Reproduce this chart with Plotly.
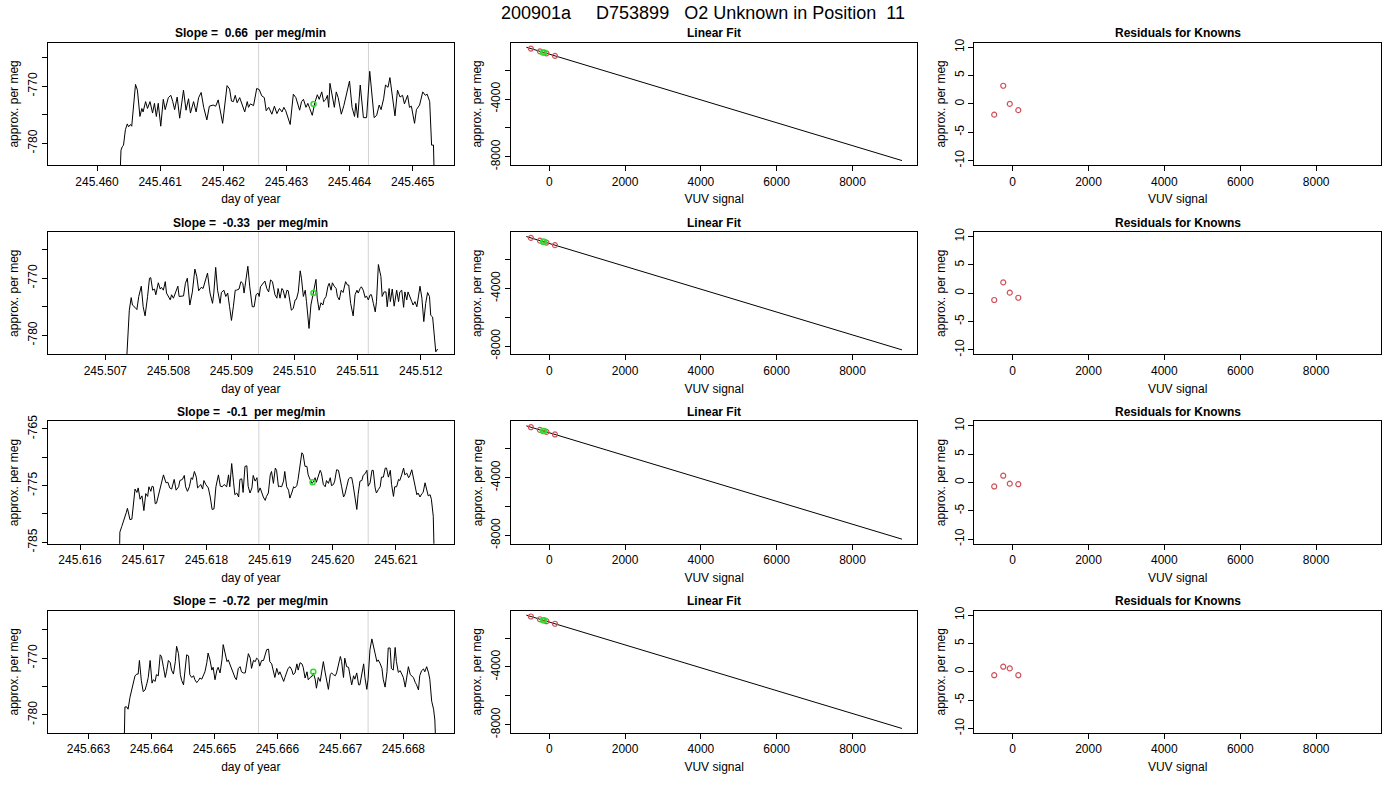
import plotly.graph_objects as go

# ---------------- data ----------------
main_title = "200901a     D753899   O2 Unknown in Position  11"
slope_titles = ["Slope =  0.66  per meg/min", "Slope =  -0.33  per meg/min",
                "Slope =  -0.1  per meg/min", "Slope =  -0.72  per meg/min"]

# row 1 : day of year / approx. per meg
day1 = [245.46035, 245.46038, 245.46040, 245.46042, 245.46045, 245.46048, 245.46050, 245.46053, 245.46055, 245.46061,
        245.46064, 245.46068, 245.46071, 245.46073, 245.46077, 245.46080, 245.46084, 245.46088, 245.46091, 245.46094,
        245.46097, 245.46101, 245.46105, 245.46108, 245.46113, 245.46117, 245.46120, 245.46123, 245.46127, 245.46131,
        245.46137, 245.46141, 245.46145, 245.46148, 245.46153, 245.46157, 245.46161, 245.46165, 245.46169, 245.46174,
        245.46178, 245.46184, 245.46188, 245.46192, 245.46199, 245.46206, 245.46210, 245.46213, 245.46216, 245.46219,
        245.46222, 245.46226, 245.46234, 245.46238, 245.46240, 245.46243, 245.46248, 245.46253, 245.46257, 245.46261,
        245.46265, 245.46268, 245.46272, 245.46277, 245.46281, 245.46285, 245.46289, 245.46293, 245.46296, 245.46299,
        245.46306, 245.46311, 245.46315, 245.46318, 245.46321, 245.46324, 245.46327, 245.46331, 245.46334, 245.46337,
        245.46341, 245.46345, 245.46349, 245.46352, 245.46356, 245.46359, 245.46362, 245.46365, 245.46367, 245.46369,
        245.46373, 245.46376, 245.46379, 245.46382, 245.46387, 245.46391, 245.46400, 245.46404, 245.46408, 245.46410,
        245.46413, 245.46417, 245.46422, 245.46427, 245.46432, 245.46439, 245.46443, 245.46447, 245.46450, 245.46454,
        245.46457, 245.46461, 245.46464, 245.46468, 245.46472, 245.46476, 245.46480, 245.46484, 245.46487, 245.46492,
        245.46495, 245.46498, 245.46503, 245.46506, 245.46511, 245.46516, 245.46520, 245.46523, 245.46527, 245.46530,
        245.46533, 245.46535]
val1 = [-790.0, -781.2, -780.6, -780.3, -777.6, -776.6, -777.1, -776.7, -777.0, -769.7,
        -770.7, -775.3, -773.9, -774.5, -772.7, -773.9, -772.7, -774.7, -773.0, -775.3,
        -773.0, -777.0, -772.3, -774.1, -772.0, -771.6, -772.7, -774.1, -771.9, -775.6,
        -770.7, -774.2, -772.2, -774.7, -772.7, -774.5, -772.0, -771.1, -773.7, -775.9,
        -773.5, -773.3, -773.5, -772.4, -776.5, -769.9, -770.5, -772.6, -772.7, -771.6,
        -772.9, -772.0, -774.5, -772.7, -773.7, -773.1, -773.4, -770.4, -770.6, -771.7,
        -772.0, -774.3, -773.7, -774.9, -773.5, -774.8, -773.9, -774.5, -773.7, -774.3,
        -776.7, -771.4, -772.0, -773.0, -774.2, -772.7, -772.3, -773.7, -773.0, -773.9,
        -775.1, -772.9, -771.5, -772.3, -771.0, -772.7, -772.4, -771.6, -773.7, -769.5,
        -772.4, -773.7, -771.0, -772.0, -774.9, -773.4, -769.1, -773.7, -775.3, -773.0,
        -775.5, -769.8, -775.5, -775.5, -767.4, -775.5, -775.1, -773.3, -774.1, -772.2,
        -769.8, -770.2, -768.5, -772.3, -775.2, -770.7, -771.9, -771.6, -773.1, -771.6,
        -773.7, -773.5, -776.5, -774.1, -773.3, -771.0, -771.6, -771.4, -772.7, -780.3,
        -780.3, -790.0]

# row 2
day2 = [245.50731, 245.50738, 245.50741, 245.50743, 245.50747, 245.50750, 245.50753, 245.50757, 245.50760, 245.50763,
        245.50767, 245.50770, 245.50772, 245.50775, 245.50778, 245.50780, 245.50784, 245.50787, 245.50789, 245.50792,
        245.50795, 245.50797, 245.50803, 245.50805, 245.50808, 245.50812, 245.50815, 245.50817, 245.50821, 245.50824,
        245.50827, 245.50830, 245.50834, 245.50838, 245.50842, 245.50845, 245.50848, 245.50852, 245.50855, 245.50859,
        245.50862, 245.50866, 245.50870, 245.50872, 245.50875, 245.50878, 245.50882, 245.50884, 245.50888, 245.50891,
        245.50894, 245.50897, 245.50900, 245.50903, 245.50906, 245.50908, 245.50912, 245.50915, 245.50918, 245.50920,
        245.50923, 245.50926, 245.50929, 245.50933, 245.50936, 245.50939, 245.50942, 245.50944, 245.50946, 245.50951,
        245.50953, 245.50956, 245.50959, 245.50962, 245.50965, 245.50969, 245.50972, 245.50974, 245.50977, 245.50980,
        245.50982, 245.50985, 245.50988, 245.50990, 245.50993, 245.50995, 245.50998, 245.51001, 245.51003, 245.51006,
        245.51009, 245.51011, 245.51014, 245.51017, 245.51019, 245.51023, 245.51026, 245.51029, 245.51031, 245.51034,
        245.51036, 245.51039, 245.51042, 245.51045, 245.51047, 245.51050, 245.51053, 245.51055, 245.51058, 245.51060,
        245.51063, 245.51066, 245.51068, 245.51071, 245.51074, 245.51077, 245.51081, 245.51084, 245.51086, 245.51089,
        245.51093, 245.51096, 245.51099, 245.51101, 245.51104, 245.51106, 245.51109, 245.51112, 245.51114, 245.51117,
        245.51120, 245.51122, 245.51125, 245.51128, 245.51130, 245.51133, 245.51137, 245.51139, 245.51142, 245.51145,
        245.51147, 245.51150, 245.51152, 245.51155, 245.51158, 245.51162, 245.51165, 245.51167, 245.51170, 245.51173,
        245.51175, 245.51178, 245.51180, 245.51183, 245.51186, 245.51188, 245.51191, 245.51194, 245.51196, 245.51199,
        245.51202, 245.51205, 245.51208, 245.51211, 245.51214, 245.51216, 245.51219, 245.51222, 245.51224, 245.51227]
val2 = [-790.0, -775.6, -773.4, -774.7, -775.1, -775.5, -773.2, -771.4, -775.0, -776.6,
        -773.2, -770.0, -769.9, -772.1, -771.9, -772.9, -770.8, -771.9, -771.6, -772.1,
        -770.6, -772.6, -773.8, -772.9, -773.5, -772.1, -771.4, -773.2, -773.1, -773.1,
        -770.9, -770.0, -774.7, -772.4, -768.4, -769.7, -772.2, -771.6, -771.8, -770.3,
        -769.1, -772.6, -774.4, -772.6, -768.1, -772.1, -774.4, -772.5, -772.1, -773.2,
        -772.6, -775.0, -777.4, -775.0, -772.1, -772.1, -771.9, -770.6, -770.9, -772.6,
        -770.6, -767.9, -771.5, -775.0, -775.0, -772.9, -772.6, -773.2, -771.5, -770.9,
        -770.5, -771.8, -772.4, -770.3, -770.6, -772.9, -773.5, -771.8, -773.5, -771.8,
        -772.1, -773.5, -772.1, -772.2, -774.1, -775.6, -775.3, -773.8, -773.7, -772.4,
        -768.7, -770.0, -773.2, -772.1, -774.1, -778.8, -774.7, -772.9, -771.5, -770.2,
        -773.5, -775.6, -774.3, -774.7, -773.7, -773.2, -771.4, -770.9, -772.1, -770.8,
        -771.4, -771.8, -773.2, -773.8, -772.1, -772.5, -770.6, -771.2, -771.2, -774.4,
        -776.6, -772.9, -772.1, -772.6, -771.8, -771.5, -772.1, -773.4, -773.1, -773.8,
        -772.9, -772.9, -774.4, -775.9, -774.1, -767.6, -769.7, -773.2, -772.4, -772.4,
        -775.0, -771.8, -774.1, -771.9, -774.9, -772.1, -774.1, -772.4, -772.1, -775.1,
        -772.4, -773.8, -772.4, -773.1, -774.1, -774.7, -774.1, -775.0, -773.8, -771.4,
        -773.5, -777.6, -774.4, -772.5, -773.2, -776.5, -776.8, -780.6, -782.9, -782.4]

# row 3
day3 = [245.61662, 245.61663, 245.61666, 245.61670, 245.61673, 245.61675, 245.61679, 245.61682, 245.61684, 245.61687,
        245.61690, 245.61692, 245.61695, 245.61698, 245.61701, 245.61704, 245.61707, 245.61709, 245.61712, 245.61714,
        245.61716, 245.61719, 245.61721, 245.61725, 245.61728, 245.61732, 245.61736, 245.61739, 245.61742, 245.61745,
        245.61749, 245.61752, 245.61756, 245.61758, 245.61762, 245.61765, 245.61767, 245.61770, 245.61773, 245.61776,
        245.61778, 245.61781, 245.61784, 245.61786, 245.61788, 245.61791, 245.61794, 245.61796, 245.61799, 245.61803,
        245.61806, 245.61809, 245.61812, 245.61815, 245.61819, 245.61822, 245.61825, 245.61828, 245.61832, 245.61835,
        245.61837, 245.61840, 245.61843, 245.61845, 245.61848, 245.61851, 245.61853, 245.61856, 245.61858, 245.61861,
        245.61864, 245.61866, 245.61869, 245.61872, 245.61874, 245.61877, 245.61880, 245.61882, 245.61885, 245.61887,
        245.61890, 245.61893, 245.61895, 245.61898, 245.61901, 245.61903, 245.61906, 245.61909, 245.61911, 245.61914,
        245.61916, 245.61919, 245.61922, 245.61924, 245.61927, 245.61930, 245.61932, 245.61935, 245.61938, 245.61940,
        245.61943, 245.61945, 245.61948, 245.61951, 245.61953, 245.61956, 245.61959, 245.61961, 245.61964, 245.61967,
        245.61969, 245.61972, 245.61974, 245.61977, 245.61980, 245.61982, 245.61985, 245.61988, 245.61990, 245.61993,
        245.61996, 245.61998, 245.62001, 245.62003, 245.62006, 245.62009, 245.62011, 245.62014, 245.62017, 245.62019,
        245.62022, 245.62025, 245.62027, 245.62030, 245.62032, 245.62035, 245.62038, 245.62040, 245.62043, 245.62046,
        245.62048, 245.62051, 245.62054, 245.62056, 245.62059, 245.62062, 245.62064, 245.62067, 245.62069, 245.62072,
        245.62075, 245.62077, 245.62080, 245.62083, 245.62085, 245.62088, 245.62091, 245.62093, 245.62096, 245.62098,
        245.62101, 245.62104, 245.62106, 245.62109, 245.62112, 245.62114, 245.62117, 245.62120, 245.62122, 245.62125,
        245.62127, 245.62130, 245.62133, 245.62135, 245.62138, 245.62141, 245.62143, 245.62146, 245.62149, 245.62151,
        245.62154, 245.62156, 245.62159, 245.62161]
val3 = [-790.0, -783.2, -782.2, -781.0, -779.8, -779.0, -781.0, -780.9, -778.6, -775.6,
        -776.2, -775.4, -777.4, -776.8, -779.4, -776.4, -776.9, -775.2, -776.0, -775.1,
        -775.2, -778.2, -778.1, -776.3, -775.4, -773.1, -774.5, -774.4, -775.4, -775.6,
        -773.9, -775.8, -775.2, -774.1, -773.9, -773.2, -775.2, -776.0, -775.2, -773.6,
        -773.9, -772.5, -773.5, -775.4, -775.2, -774.8, -775.6, -774.1, -774.8, -775.4,
        -777.0, -779.2, -779.1, -775.2, -773.1, -775.1, -775.2, -774.8, -775.2, -773.1,
        -775.2, -771.1, -774.5, -776.6, -776.3, -777.0, -773.9, -773.8, -776.2, -771.6,
        -771.5, -775.1, -776.3, -775.4, -773.2, -774.2, -773.6, -776.2, -775.4, -776.2,
        -777.0, -777.6, -776.9, -776.3, -773.1, -772.5, -774.6, -771.9, -772.3, -775.2,
        -775.1, -775.2, -774.2, -772.5, -775.2, -775.8, -777.2, -776.3, -775.2, -775.4,
        -775.0, -773.9, -771.6, -769.2, -769.5, -771.6, -771.6, -773.1, -773.9, -774.6,
        -774.4, -773.6, -774.4, -773.4, -772.3, -772.8, -774.8, -775.2, -774.1, -774.6,
        -773.6, -775.0, -774.8, -774.2, -772.2, -772.3, -773.8, -775.2, -777.0, -776.6,
        -775.2, -773.8, -773.6, -773.6, -774.8, -777.2, -779.2, -776.6, -774.2, -774.1,
        -773.2, -772.9, -772.3, -775.1, -774.5, -772.3, -772.3, -775.4, -776.3, -775.7,
        -775.2, -773.5, -773.5, -771.9, -771.9, -773.5, -772.3, -774.8, -776.9, -775.2,
        -775.2, -773.9, -774.1, -773.1, -771.9, -773.1, -772.8, -773.6, -773.2, -772.2,
        -773.2, -775.2, -776.6, -776.3, -777.0, -776.4, -776.2, -774.5, -775.8, -776.8,
        -776.6, -777.4, -780.4, -790.0]

# row 4
day4 = [245.66356, 245.66358, 245.66361, 245.66363, 245.66366, 245.66369, 245.66371, 245.66374, 245.66377, 245.66379,
        245.66381, 245.66384, 245.66387, 245.66390, 245.66393, 245.66395, 245.66398, 245.66401, 245.66403, 245.66406,
        245.66408, 245.66411, 245.66414, 245.66416, 245.66419, 245.66422, 245.66424, 245.66427, 245.66430, 245.66432,
        245.66435, 245.66438, 245.66440, 245.66443, 245.66446, 245.66448, 245.66451, 245.66453, 245.66456, 245.66459,
        245.66461, 245.66464, 245.66467, 245.66469, 245.66472, 245.66475, 245.66477, 245.66480, 245.66483, 245.66485,
        245.66488, 245.66490, 245.66493, 245.66496, 245.66498, 245.66501, 245.66504, 245.66506, 245.66509, 245.66512,
        245.66514, 245.66517, 245.66520, 245.66522, 245.66525, 245.66528, 245.66530, 245.66533, 245.66535, 245.66538,
        245.66541, 245.66543, 245.66546, 245.66549, 245.66551, 245.66554, 245.66557, 245.66559, 245.66562, 245.66565,
        245.66567, 245.66570, 245.66572, 245.66575, 245.66578, 245.66580, 245.66583, 245.66586, 245.66588, 245.66591,
        245.66594, 245.66596, 245.66599, 245.66602, 245.66604, 245.66607, 245.66610, 245.66612, 245.66615, 245.66617,
        245.66620, 245.66623, 245.66625, 245.66628, 245.66631, 245.66633, 245.66636, 245.66639, 245.66641, 245.66644,
        245.66647, 245.66649, 245.66652, 245.66655, 245.66657, 245.66660, 245.66662, 245.66665, 245.66668, 245.66670,
        245.66673, 245.66676, 245.66678, 245.66681, 245.66684, 245.66686, 245.66689, 245.66692, 245.66694, 245.66697,
        245.66700, 245.66702, 245.66705, 245.66707, 245.66710, 245.66713, 245.66715, 245.66718, 245.66721, 245.66723,
        245.66726, 245.66729, 245.66731, 245.66734, 245.66737, 245.66739, 245.66742, 245.66744, 245.66747, 245.66750,
        245.66752, 245.66755, 245.66758, 245.66760, 245.66763, 245.66766, 245.66768, 245.66771, 245.66774, 245.66776,
        245.66779, 245.66781, 245.66784, 245.66787, 245.66789, 245.66792, 245.66795, 245.66797, 245.66800, 245.66803,
        245.66805, 245.66808, 245.66811, 245.66813, 245.66816, 245.66819, 245.66821, 245.66824, 245.66826, 245.66829,
        245.66832, 245.66834, 245.66837, 245.66840, 245.66842, 245.66845, 245.66848, 245.66850, 245.66853]
val4 = [-790.0, -778.6, -778.6, -779.0, -776.9, -775.3, -774.1, -773.1, -772.8, -772.8,
        -770.4, -773.9, -775.9, -775.6, -774.4, -773.4, -770.4, -774.4, -773.8, -774.1,
        -772.9, -773.1, -769.4, -769.7, -771.5, -773.4, -772.4, -770.4, -770.8, -772.1,
        -772.8, -770.6, -767.9, -769.2, -772.9, -773.9, -774.7, -772.6, -769.4, -769.6,
        -772.9, -773.4, -773.1, -773.8, -774.3, -773.9, -773.5, -773.7, -772.9, -772.4,
        -770.8, -769.1, -770.3, -772.1, -771.6, -773.8, -772.1, -771.6, -772.6, -770.3,
        -767.6, -769.1, -770.6, -770.3, -771.2, -772.1, -772.6, -773.5, -773.8, -771.8,
        -771.5, -772.4, -772.6, -772.6, -771.2, -769.2, -770.0, -771.8, -770.4, -770.6,
        -770.0, -770.3, -771.4, -770.4, -770.4, -769.7, -768.5, -768.4, -770.6, -771.0,
        -772.6, -773.4, -771.8, -772.9, -772.4, -773.2, -774.1, -773.4, -772.5, -771.8,
        -771.5, -772.1, -772.9, -772.6, -771.0, -772.1, -770.8, -771.0, -771.6, -773.5,
        -772.4, -773.8, -773.4, -773.2, -772.6, -773.7, -775.3, -773.4, -774.1, -772.6,
        -770.6, -772.6, -773.8, -775.5, -772.9, -772.6, -772.9, -773.1, -772.6, -771.2,
        -769.7, -770.6, -773.4, -770.0, -771.5, -771.6, -773.1, -774.7, -773.1, -773.7,
        -772.6, -774.7, -774.7, -772.4, -771.0, -773.4, -775.5, -773.7, -768.5, -766.6,
        -767.9, -769.1, -770.6, -770.3, -770.9, -771.8, -773.7, -775.1, -772.4, -768.2,
        -768.2, -771.8, -772.1, -768.1, -770.6, -772.5, -772.2, -772.6, -773.4, -775.1,
        -773.5, -771.5, -772.9, -773.1, -773.4, -774.3, -774.7, -775.6, -773.1, -772.2,
        -771.9, -772.4, -771.5, -772.6, -773.7, -777.6, -779.0, -780.9, -790.0]

days = [day1, day2, day3, day4]
vals = [val1, val2, val3, val4]

# grey markers (day of year) and the unknown point on each trace
mark_days = [[245.46256, 245.46430], [245.50943, 245.51117], [245.61883, 245.62056], [245.66570, 245.66744]]
unk_day = [245.46343, 245.51030, 245.61968, 245.66657]
unk_val = [-773.1, -772.6, -774.4, -772.4]

# linear fit panels (VUV signal vs per meg)
vuv_known = [-485, -247, -75, 150]
pm_known = [-506, -695, -831, -1009]
fit_vuv = [-605, 9306]
fit_pm = [-411, -8261]
unk_vuv = [-165, -135]

# residuals for the knowns, per row
resid = [[-1.9, 3.2, 0.0, -1.1],
         [-1.2, 1.9, 0.1, -0.8],
         [-0.7, 1.2, -0.2, -0.3],
         [-0.6, 0.9, 0.6, -0.6]]

# axis ranges / ticks
day_ranges = [[245.459219, 245.465655], [245.506086, 245.512529],
              [245.615488, 245.621918], [245.662354, 245.668804]]
day_tick0 = [245.460, 245.507, 245.616, 245.663]
pm_ranges = [[-783.8, -762.4], [-783.35, -761.9], [-785.24, -763.65], [-783.2, -761.6]]
pm_ticks = [[-780, -775, -770, -765], [-780, -775, -770, -765],
            [-785, -780, -775, -770, -765], [-780, -775, -770, -765]]
pm_ticktext = [["-780", "", "-770", ""], ["-780", "", "-770", ""],
               ["-785", "", "-775", "", "-765"], ["-780", "", "-770", ""]]
vuv_range = [-1010, 9710]
fit_range = [-8575, -97]
fit_ticks = [-8000, -6000, -4000, -2000]
fit_ticktext = ["-8000", "", "-4000", ""]
vuv_ticks = [0, 2000, 4000, 6000, 8000]
res_range = [-10.8, 10.8]
res_ticks = [-10, -5, 0, 5, 10]

# ---------------- figure ----------------
FONT = "Liberation Sans, Arial, Helvetica, sans-serif"
W, H = 1400, 800
col_x = [[47.7 / W, 454 / W], [511 / W, 917.3 / W], [974.3 / W, 1381 / W]]


def row_y(r):
    top = 1 - (42.7 + 189.3 * r) / H
    return [top - 122.4 / H, top]


axis_base = dict(
    showline=True, linewidth=1, linecolor="black", mirror=True,
    ticks="outside", ticklen=5, tickwidth=1, tickcolor="black",
    showgrid=False, zeroline=False,
    tickfont=dict(family=FONT, size=12, color="black"),
)
title_font = dict(family=FONT, size=12, color="black")

fig = go.Figure()
layout = {}
shapes = []
annotations = []

red = "#d0505a"
green = "#2edc2e"

for r in range(4):
    for c in range(3):
        n = r * 3 + c + 1
        xs = "x" if n == 1 else f"x{n}"
        ys = "y" if n == 1 else f"y{n}"
        xkey = "xaxis" if n == 1 else f"xaxis{n}"
        ykey = "yaxis" if n == 1 else f"yaxis{n}"

        if c == 0:
            fig.add_trace(go.Scatter(x=days[r], y=vals[r], mode="lines",
                                     line=dict(color="black", width=1), xaxis=xs, yaxis=ys))
            fig.add_trace(go.Scatter(x=[unk_day[r]], y=[unk_val[r]], mode="markers",
                                     marker=dict(symbol="circle-open", size=5, color=green, line=dict(width=1.5)),
                                     xaxis=xs, yaxis=ys))
            for d in mark_days[r]:
                shapes.append(dict(type="line", xref=xs, yref=f"{ys} domain", x0=d, x1=d, y0=0, y1=1,
                                   line=dict(color="#d3d3d3", width=1), layer="below"))
            layout[xkey] = dict(axis_base, domain=col_x[c], anchor=ys, range=day_ranges[r],
                                tick0=day_tick0[r], dtick=0.001, tickformat=".3f",
                                title=dict(text="day of year", font=title_font, standoff=7))
            layout[ykey] = dict(axis_base, domain=row_y(r), anchor=xs, range=pm_ranges[r],
                                tickvals=pm_ticks[r], ticktext=pm_ticktext[r], tickangle=-90,
                                title=dict(text="approx. per meg", font=title_font, standoff=4))
            ttl = slope_titles[r]
        elif c == 1:
            fig.add_trace(go.Scatter(x=fit_vuv, y=fit_pm, mode="lines",
                                     line=dict(color="black", width=1), xaxis=xs, yaxis=ys))
            fig.add_trace(go.Scatter(x=vuv_known, y=pm_known, mode="markers",
                                     marker=dict(symbol="circle-open", size=5, color=red, line=dict(width=1.2)),
                                     xaxis=xs, yaxis=ys))
            fig.add_trace(go.Scatter(x=unk_vuv, y=[unk_val[r], unk_val[r]], mode="markers",
                                     marker=dict(symbol="circle-open", size=5, color=green, line=dict(width=1.5)),
                                     xaxis=xs, yaxis=ys))
            layout[xkey] = dict(axis_base, domain=col_x[c], anchor=ys, range=vuv_range,
                                tickvals=vuv_ticks, ticktext=[str(v) for v in vuv_ticks],
                                title=dict(text="VUV signal", font=title_font, standoff=7))
            layout[ykey] = dict(axis_base, domain=row_y(r), anchor=xs, range=fit_range,
                                tickvals=fit_ticks, ticktext=fit_ticktext, tickangle=-90,
                                title=dict(text="approx. per meg", font=title_font, standoff=4))
            ttl = "Linear Fit"
        else:
            fig.add_trace(go.Scatter(x=vuv_known, y=resid[r], mode="markers",
                                     marker=dict(symbol="circle-open", size=5, color=red, line=dict(width=1.2)),
                                     xaxis=xs, yaxis=ys))
            layout[xkey] = dict(axis_base, domain=col_x[c], anchor=ys, range=vuv_range,
                                tickvals=vuv_ticks, ticktext=[str(v) for v in vuv_ticks],
                                title=dict(text="VUV signal", font=title_font, standoff=7))
            layout[ykey] = dict(axis_base, domain=row_y(r), anchor=xs, range=res_range,
                                tickvals=res_ticks, ticktext=[str(v) for v in res_ticks], tickangle=-90,
                                title=dict(text="approx. per meg", font=title_font, standoff=4))
            ttl = "Residuals for Knowns"

        annotations.append(dict(text=f"<b>{ttl}</b>", xref="paper", yref="paper",
                                x=sum(col_x[c]) / 2, y=row_y(r)[1] + 9.5 / H,
                                xanchor="center", yanchor="middle", showarrow=False,
                                font=dict(family=FONT, size=12, color="black")))

annotations.append(dict(text=main_title.replace(" ", "\u00a0"), xref="paper", yref="paper",
                        x=703 / W, y=1 - 13 / H, xanchor="center", yanchor="middle", showarrow=False,
                        font=dict(family=FONT, size=18, color="black")))

fig.update_layout(
    template="none",
    width=W, height=H,
    margin=dict(l=0, r=0, t=0, b=0),
    paper_bgcolor="white", plot_bgcolor="white",
    font=dict(family=FONT, size=12, color="black"),
    showlegend=False,
    shapes=shapes,
    annotations=annotations,
    **layout,
)

fig.write_html("out.html", config={"displayModeBar": False},
               post_script="document.body.style.margin='0';")
